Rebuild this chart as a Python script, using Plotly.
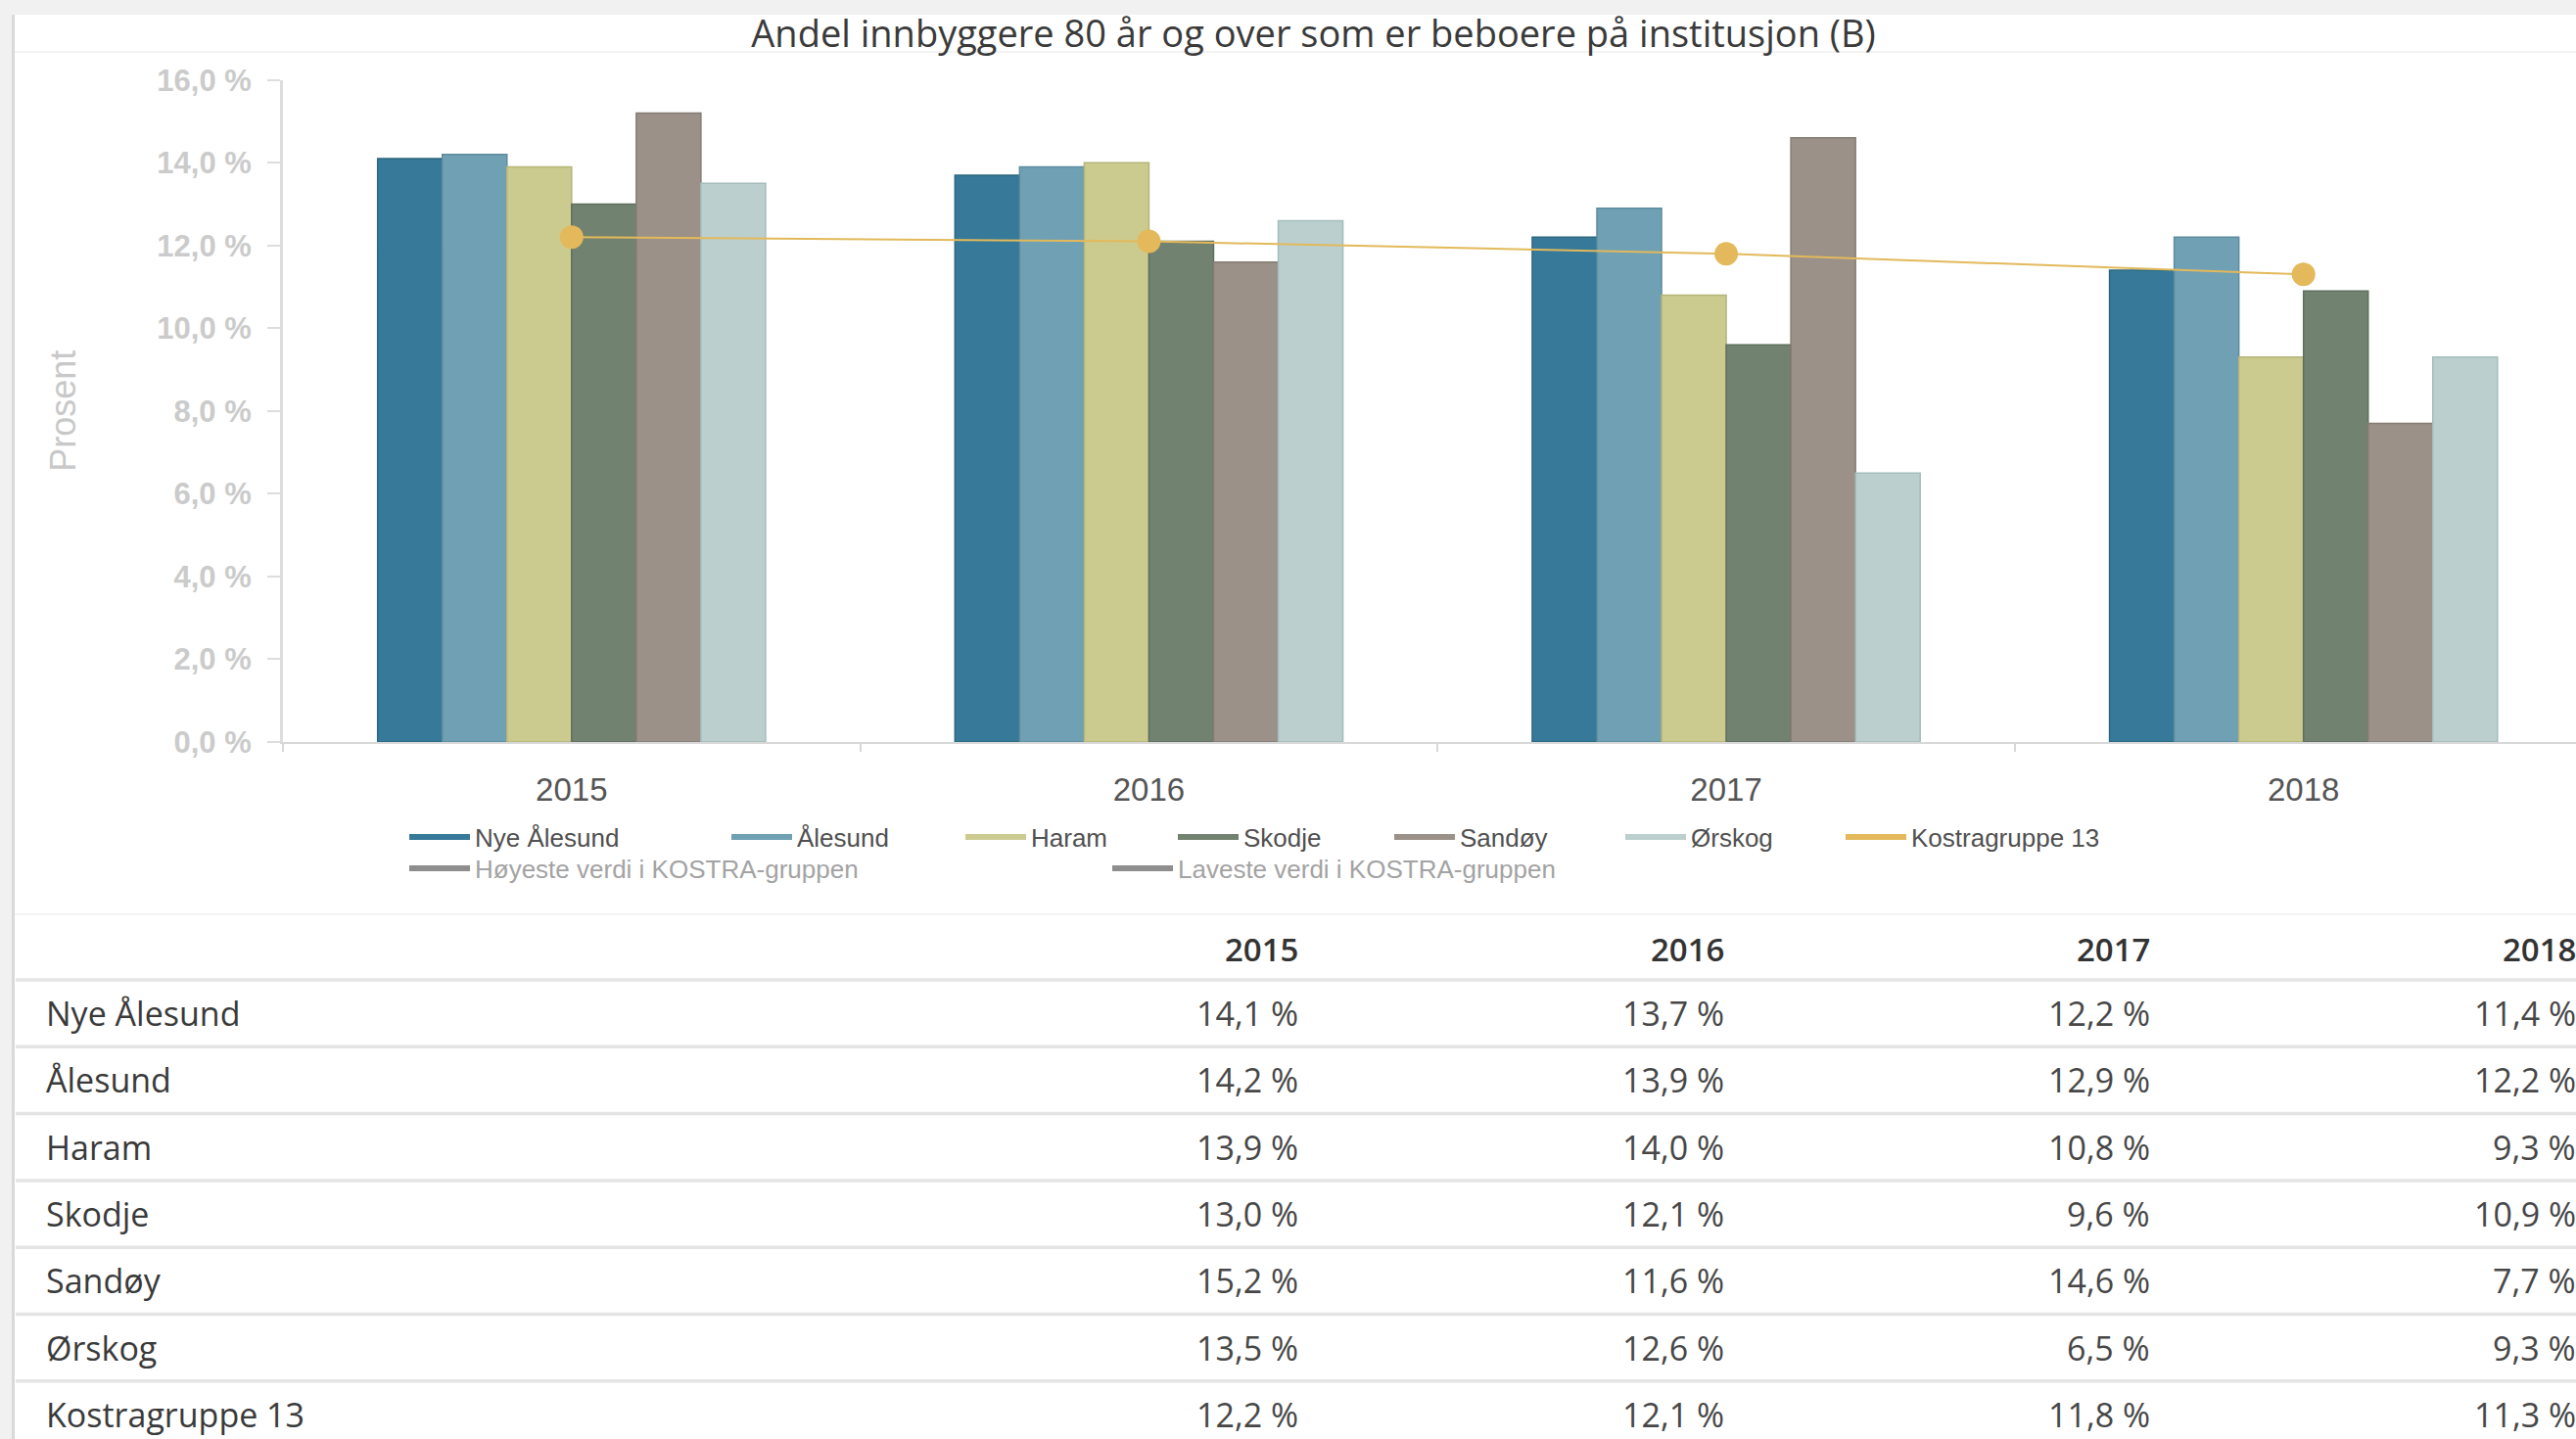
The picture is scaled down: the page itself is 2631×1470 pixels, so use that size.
import plotly.graph_objects as go

# ---------------- data ----------------
years = ["2015", "2016", "2017", "2018"]
series_names = ["Nye Ålesund", "Ålesund", "Haram", "Skodje", "Sandøy", "Ørskog"]
nye_alesund = [14.1, 13.7, 12.2, 11.4]
alesund = [14.2, 13.9, 12.9, 12.2]
haram = [13.9, 14.0, 10.8, 9.3]
skodje = [13.0, 12.1, 9.6, 10.9]
sandoy = [15.2, 11.6, 14.6, 7.7]
orskog = [13.5, 12.6, 6.5, 9.3]
kostra_name = "Kostragruppe 13"
kostragruppe_13 = [12.2, 12.1, 11.8, 11.3]
hidden_names = ["Høyeste verdi i KOSTRA-gruppen", "Laveste verdi i KOSTRA-gruppen"]
y_tick_values = [0, 2, 4, 6, 8, 10, 12, 14, 16]
title_text = "Andel innbyggere 80 år og over som er beboere på institusjon (B)"
y_title = "Prosent"

series_values = [nye_alesund, alesund, haram, skodje, sandoy, orskog]

# ---------------- styles ----------------
W, H = 2631, 1470
bar_colors = ["#367999", "#6fa0b4", "#cbcb8f", "#718270", "#9b9188", "#bbcfcf"]
bar_edges = ["#2c6780", "#5e8c9e", "#b5b57a", "#5f6f5e", "#857c73", "#a5bcbc"]
kostra_color = "#e3b95b"
hidden_color = "#8e8e8e"
arial = "Liberation Sans, Arial, sans-serif"
opensans = "Open Sans, sans-serif"


def px(x):
    return x / W


def py(y):
    return 1 - y / H


def fmt(v):
    return f"{v:.1f}".replace(".", ",") + " %"


fig = go.Figure()

for name, vals, c, e in zip(series_names, series_values, bar_colors, bar_edges):
    fig.add_trace(go.Bar(x=years, y=vals, name=name, showlegend=False,
                         marker=dict(color=c, line=dict(color=e, width=1.5))))

fig.add_trace(go.Scatter(x=years, y=kostragruppe_13, name=kostra_name, mode="lines+markers",
                         showlegend=False, line=dict(color=kostra_color, width=2),
                         marker=dict(size=24, color=kostra_color)))

# legend entries (line symbols, each placed like the reference)
legend_names = series_names + [kostra_name] + hidden_names
legend_colors = bar_colors + [kostra_color, hidden_color, hidden_color]
legend_x = [418, 747, 986, 1203, 1424, 1660, 1885, 418, 1136]
legend_y = [855, 855, 855, 855, 855, 855, 855, 887, 887]
legend_text_colors = ["#505050"] * 7 + ["#a3a3a3", "#a3a3a3"]

layout_legends = {}
for i, (n, c) in enumerate(zip(legend_names, legend_colors)):
    key = "legend" if i == 0 else f"legend{i + 1}"
    fig.add_trace(go.Scatter(x=[None], y=[None], mode="lines", name=n, legend=key,
                             line=dict(color=c, width=6), hoverinfo="skip"))
    layout_legends[key] = dict(
        x=px(legend_x[i] - 5), y=py(legend_y[i]), xanchor="left", yanchor="middle",
        orientation="h", bgcolor="rgba(0,0,0,0)", borderwidth=0, itemwidth=62,
        font=dict(family=arial, size=26, color=legend_text_colors[i]),
    )

# ---------------- table (built from the data arrays) ----------------
table_rows = series_names + [kostra_name]
table_values = series_values + [kostragruppe_13]
col_right = [1328, 1763, 2198, 2633]
header_y = 970
row_top = 1001
row_h = 68.3
annotations = []
for j, yr in enumerate(years):
    annotations.append(dict(x=px(col_right[j]), y=py(header_y), xref="paper", yref="paper",
                            text=yr, showarrow=False, xanchor="right", yanchor="middle",
                            font=dict(family=opensans, size=33, color="#333333", weight=600)))
for r, (rn, vals) in enumerate(zip(table_rows, table_values)):
    yc = row_top + row_h * r + row_h / 2
    annotations.append(dict(x=px(45), y=py(yc), xref="paper", yref="paper", text=rn,
                            showarrow=False, xanchor="left", yanchor="middle",
                            font=dict(family=opensans, size=34, color="#3a3a3a")))
    for j, v in enumerate(vals):
        annotations.append(dict(x=px(col_right[j]), y=py(yc), xref="paper", yref="paper",
                                text=fmt(v), showarrow=False, xanchor="right", yanchor="middle",
                                font=dict(family=opensans, size=34, color="#474747")))

shapes = []
# page background strips
shapes.append(dict(type="rect", xref="paper", yref="paper", x0=0, x1=1, y0=py(15), y1=1,
                   fillcolor="#f1f1f1", line=dict(width=0), layer="below"))
shapes.append(dict(type="rect", xref="paper", yref="paper", x0=0, x1=px(12), y0=0, y1=1,
                   fillcolor="#f1f1f1", line=dict(width=0), layer="below"))
shapes.append(dict(type="line", xref="paper", yref="paper", x0=px(13.5), x1=px(13.5), y0=0, y1=py(15),
                   line=dict(color="#d9d9d9", width=3)))
# title separator and chart/table separator
shapes.append(dict(type="line", xref="paper", yref="paper", x0=px(15), x1=1, y0=py(53), y1=py(53),
                   line=dict(color="#f3f3f3", width=2)))
shapes.append(dict(type="line", xref="paper", yref="paper", x0=px(15), x1=1, y0=py(934), y1=py(934),
                   line=dict(color="#f3f3f3", width=2)))
# table row lines
for r in range(len(table_rows)):
    yl = row_top + row_h * r
    shapes.append(dict(type="line", xref="paper", yref="paper", x0=px(16), x1=1, y0=py(yl), y1=py(yl),
                       line=dict(color="#e4e4e4", width=3.5)))

fig.update_layout(
    width=W, height=H,
    margin=dict(l=0, r=0, t=0, b=0, autoexpand=False),
    paper_bgcolor="white", plot_bgcolor="white",
    barmode="group", bargap=0.328, bargroupgap=0,
    title=dict(text=title_text, x=0.5099, xanchor="center", y=py(35), yanchor="middle",
               xref="paper", yref="paper",
               font=dict(family=opensans, size=38, color="#3a3a3a")),
    xaxis=dict(domain=[px(289), 1], type="category", range=[-0.5, 3.472],
               showline=True, linecolor="#d8d8d8", linewidth=2,
               ticks="outside", tickson="boundaries", ticklen=8, tickcolor="#d8d8d8", tickwidth=2,
               ticklabelstandoff=18, showgrid=False, zeroline=False,
               tickfont=dict(family=arial, size=33, color="#555555")),
    yaxis=dict(domain=[py(757.9), py(81.7)], range=[0, 16],
               tickvals=y_tick_values, ticktext=[fmt(v) for v in y_tick_values],
               showline=True, linecolor="#dddddd", linewidth=3,
               ticks="outside", ticklen=13, tickcolor="#dddddd", tickwidth=2,
               ticklabelstandoff=10, showgrid=False, zeroline=False,
               tickfont=dict(family=arial, size=31, color="#cbcbcb", weight="bold"),
               title=dict(text=y_title, standoff=72,
                          font=dict(family=arial, size=36, color="#c8c8c8"))),
    annotations=annotations,
    shapes=shapes,
    **layout_legends,
)

fig.write_html("out.html", config={"displayModeBar": False},
               post_script="document.body.style.margin='0';document.body.style.overflow='hidden';")
